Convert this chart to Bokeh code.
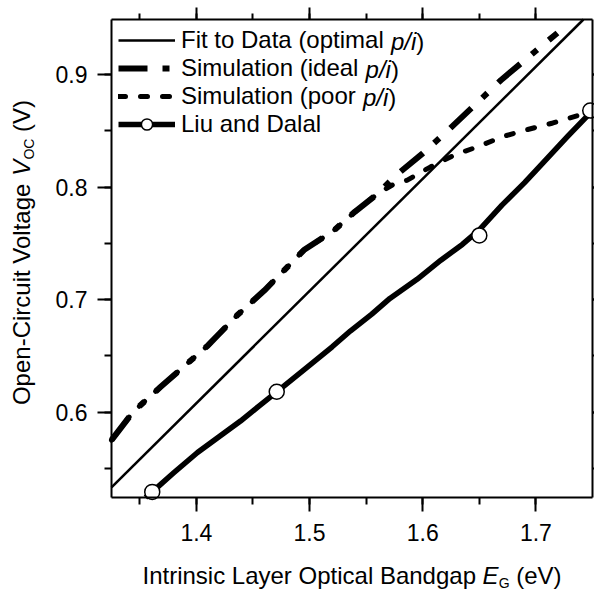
import math
from bokeh.plotting import figure
from bokeh.models import (Range1d, LinearAxis, SingleIntervalTicker, Label,
                          Legend, LegendItem, CustomJSTickFormatter)
from bokeh.embed import file_html
from bokeh.resources import INLINE

# ---------------- data ----------------
fit_eg = [1.325, 1.742]
fit_voc = [0.533, 0.949]

ideal_eg = [1.325, 1.344, 1.368, 1.393, 1.410, 1.436, 1.460, 1.495, 1.521,
            1.540, 1.560, 1.576, 1.600, 1.624, 1.645, 1.669, 1.695, 1.719]
ideal_voc = [0.575, 0.600, 0.622, 0.644, 0.659, 0.686, 0.708, 0.744, 0.761,
             0.778, 0.794, 0.810, 0.830, 0.852, 0.872, 0.895, 0.917, 0.937]

poor_eg = [1.325, 1.344, 1.368, 1.393, 1.410, 1.436, 1.460, 1.495, 1.521,
           1.540, 1.560, 1.575, 1.586, 1.607, 1.629, 1.649, 1.671, 1.692,
           1.715, 1.745]
poor_voc = [0.575, 0.600, 0.622, 0.644, 0.659, 0.686, 0.708, 0.744, 0.761,
            0.778, 0.794, 0.803, 0.806, 0.818, 0.829, 0.836, 0.845, 0.851,
            0.857, 0.866]

liu_eg = [1.355, 1.361, 1.380, 1.401, 1.420, 1.439, 1.455, 1.471, 1.498,
          1.520, 1.536, 1.555, 1.571, 1.595, 1.616, 1.635, 1.650, 1.670,
          1.690, 1.704, 1.728, 1.750]
liu_voc = [0.524, 0.529, 0.546, 0.564, 0.578, 0.592, 0.605, 0.618, 0.640,
           0.658, 0.672, 0.687, 0.701, 0.718, 0.735, 0.749, 0.762, 0.784,
           0.804, 0.819, 0.845, 0.868]

liu_pts_eg = [1.361, 1.471, 1.650, 1.748]
liu_pts_voc = [0.529, 0.618, 0.757, 0.868]

legend_plain = ["Fit to Data (optimal ", "Simulation (ideal ",
                "Simulation (poor ", "Liu and Dalal"]
legend_italic = ["p/i", "p/i", "p/i", ""]

x_title_parts = ["Intrinsic Layer Optical Bandgap ", "E", "G", " (eV)"]
y_title_parts = ["Open-Circuit Voltage ", "V", "OC", " (V)"]

X0, X1 = 1.325, 1.750      # axis extent (eV)
Y0, Y1 = 0.524, 0.949      # axis extent (V)

# ---------------- layout helpers ----------------
FONT = "Liberation Sans"
W, H = 594, 589
FL, FR, FT, FB = 111, 592, 19, 497   # axes box in canvas pixels
SX = (FR - FL) / (X1 - X0)
SY = (FB - FT) / (Y1 - Y0)


def px2x(px):
    return X0 + (px - FL) / SX


def py2y(py):
    return Y1 - (py - FT) / SY


ARIAL = {' ': 0.278, '(': 0.333, ')': 0.333, '-': 0.333, '/': 0.278,
         '.': 0.278, 'a': 0.556, 'b': 0.556, 'c': 0.5, 'd': 0.556,
         'e': 0.556, 'f': 0.278, 'g': 0.556, 'h': 0.556, 'i': 0.222,
         'j': 0.222, 'k': 0.5, 'l': 0.222, 'm': 0.833, 'n': 0.556,
         'o': 0.556, 'p': 0.556, 'q': 0.556, 'r': 0.333, 's': 0.5,
         't': 0.278, 'u': 0.556, 'v': 0.5, 'w': 0.722, 'x': 0.5, 'y': 0.5,
         'z': 0.5, 'A': 0.667, 'B': 0.667, 'C': 0.722, 'D': 0.722,
         'E': 0.667, 'F': 0.611, 'G': 0.778, 'I': 0.278, 'L': 0.556,
         'O': 0.778, 'S': 0.667, 'V': 0.667}


def tw(s, size):
    return sum(ARIAL.get(c, 0.556) for c in s) * size


p = figure(width=W, height=H, output_backend="svg", toolbar_location=None,
           x_range=Range1d(px2x(0), px2x(W)), y_range=Range1d(py2y(H), py2y(0)),
           x_axis_location=None, y_axis_location=None,
           min_border=0)
p.background_fill_color = "white"
p.border_fill_color = "white"
p.outline_line_color = None
p.grid.visible = False


def make_axis(loc, fixed, bounds, labels=True, out=14):
    ax = LinearAxis(ticker=SingleIntervalTicker(interval=0.1, num_minor_ticks=2),
                    fixed_location=fixed, bounds=bounds)
    ax.axis_line_width = 2
    ax.axis_line_color = "black"
    ax.major_tick_line_width = 2
    ax.minor_tick_line_width = 2
    ax.major_tick_in = 0
    ax.minor_tick_in = 0
    ax.major_tick_out = out
    ax.minor_tick_out = out // 2
    ax.major_label_text_font = FONT
    ax.major_label_text_color = "black"
    ax.major_label_text_font_size = "23px"
    if not labels:
        ax.formatter = CustomJSTickFormatter(code="return ''")
        ax.major_label_standoff = 0
    p.add_layout(ax, loc)
    return ax


xb = make_axis("below", Y0, (X0, X1))
xb.major_label_standoff = 12
yl = make_axis("left", X0, (Y0, Y1))
yl.major_label_standoff = 10
xt = make_axis("above", Y1, (X0, X1), labels=False, out=12)
yr = make_axis("right", X1, (Y0, Y1), labels=False, out=12)

# ---------------- series ----------------
r_fit = p.line(fit_eg, fit_voc, line_width=2.5, line_color="black")
r_ideal = p.line(ideal_eg, ideal_voc, line_width=6, line_color="black",
                 line_dash="29 15 7 15")
r_poor = p.line(poor_eg, poor_voc, line_width=5, line_color="black",
                line_dash="7 15", line_cap="round")
r_liu = p.line(liu_eg, liu_voc, line_width=5.5, line_color="black",
               line_join="round")
r_liu_pts = p.scatter(liu_pts_eg, liu_pts_voc, marker="circle", size=15,
                      fill_color="white", line_color="black", line_width=1.5)

ROW = 28
LEG_X = 118          # left end of the legend glyphs
LEG_Y = 41           # centre of the first legend row
renderers = [[r_fit], [r_ideal], [r_poor], [r_liu, r_liu_pts]]
legend = Legend(items=[LegendItem(label=t, renderers=r)
                       for t, r in zip(legend_plain, renderers)],
                location=(LEG_X, H - (LEG_Y - 15) - 4 * ROW),
                margin=0, padding=0, spacing=0,
                glyph_width=57, glyph_height=ROW, label_height=ROW,
                label_standoff=6, border_line_color=None,
                background_fill_alpha=0,
                label_text_font=FONT, label_text_font_size="24px",
                label_text_color="black")
p.add_layout(legend)

LEG_TEXT_X = LEG_X + 57 + 6
for i, (plain, ital) in enumerate(zip(legend_plain, legend_italic)):
    if not ital:
        continue
    yc = LEG_Y + ROW * i
    xi = LEG_TEXT_X + tw(plain, 24)
    p.add_layout(Label(x=px2x(xi), y=py2y(yc), text=ital,
                       text_font=FONT, text_font_size="24px",
                       text_font_style="italic", text_baseline="middle",
                       text_align="left", text_color="black"))
    p.add_layout(Label(x=px2x(xi + tw(ital, 24)), y=py2y(yc), text=")",
                       text_font=FONT, text_font_size="24px",
                       text_baseline="middle", text_align="left",
                       text_color="black"))

# ---------------- axis titles ----------------
sizes = [24, 24, 14, 24]
styles = ["normal", "italic", "normal", "normal"]
shifts = [0, 0, 7, 0]


def lead(s, z):
    """width of leading blanks (SVG drops them) and the stripped text"""
    t = s.lstrip(" ")
    return tw(s[:len(s) - len(t)], z), t


total = sum(tw(s, z) for s, z in zip(x_title_parts, sizes))
xpos = (FL + FR) / 2 - total / 2
base_y = 575
for s, z, st, sh in zip(x_title_parts, sizes, styles, shifts):
    off, t = lead(s, z)
    p.add_layout(Label(x=px2x(xpos + off), y=py2y(base_y + sh), text=t,
                       text_font=FONT, text_font_size=f"{z}px",
                       text_font_style=st, text_baseline="alphabetic",
                       text_align="left", text_color="black"))
    xpos += tw(s, z)

total = sum(tw(s, z) for s, z in zip(y_title_parts, sizes))
ypos = 252 + total / 2
base_x = 22
for s, z, st, sh in zip(y_title_parts, sizes, styles, shifts):
    off, t = lead(s, z)
    p.add_layout(Label(x=px2x(base_x + sh - 1), y=py2y(ypos - off), text=t,
                       angle=math.pi / 2,
                       text_font=FONT, text_font_size=f"{z}px",
                       text_font_style=st, text_baseline="alphabetic",
                       text_align="left", text_color="black"))
    ypos -= tw(s, z)

open("out.html", "w").write(file_html(p, INLINE))
